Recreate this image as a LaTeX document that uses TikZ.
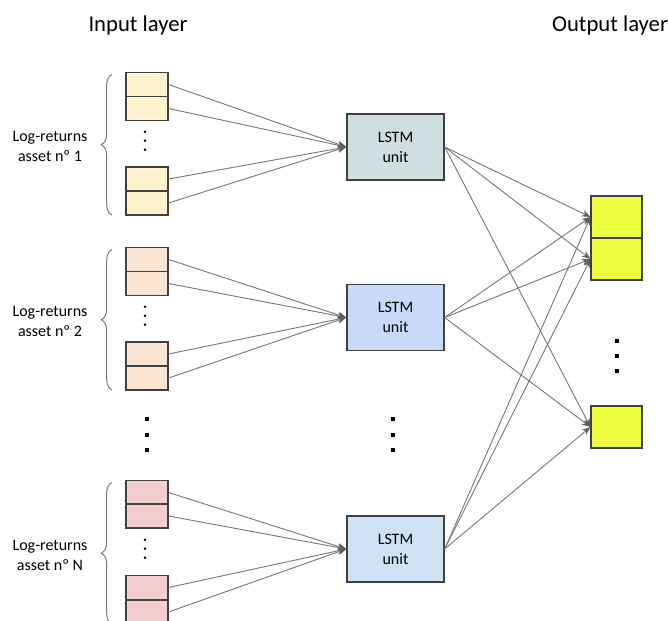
\documentclass[tikz,border=0pt]{standalone}
\usepackage{fontspec}
\setmainfont{Carlito}
\usetikzlibrary{arrows.meta,decorations.pathreplacing}

\definecolor{inA}{HTML}{FFF2CC}
\definecolor{inB}{HTML}{FBE5D2}
\definecolor{inC}{HTML}{F5CFD0}
\definecolor{lstmA}{HTML}{D0DEE1}
\definecolor{lstmB}{HTML}{C9DAF8}
\definecolor{lstmC}{HTML}{CFE2F3}
\definecolor{outY}{HTML}{EDFF3E}
\definecolor{boxline}{HTML}{404040}
\definecolor{linkgray}{HTML}{7A7A7A}
\definecolor{tipgray}{HTML}{5F5F5F}

\tikzset{
    cell/.style={draw=boxline, line width=0.8pt, minimum width=31.5pt, minimum height=18pt, inner sep=0pt},
    unit/.style={draw=boxline, line width=1pt, minimum width=72.75pt, minimum height=49.5pt,
        align=center, font=\fontsize{12}{15}\selectfont},
    outcell/.style={draw=boxline, fill=outY, line width=0.8pt, minimum width=38.25pt, minimum height=31.5pt, inner sep=0pt},
    link/.style={draw=linkgray, line width=0.7pt, -{Stealth[length=6.5pt, width=5pt, color=tipgray]}},
    assetbrace/.style={draw=linkgray, line width=0.75pt, decorate, decoration={brace, amplitude=8pt}},
    assetlabel/.style={align=center, font=\fontsize{12}{15}\selectfont},
    title/.style={font=\fontsize{17}{20}\selectfont}
}

\begin{document}
\begin{tikzpicture}[x=0.75pt, y=-0.75pt]
    \useasboundingbox (0,0) rectangle (668,621);

    % --- TITLES ---
    \node[title] (tin) at (138,25) {Input layer};
    \node[title] (tout) at (610,25) {Output layer};

    % --- OUTPUT LAYER ---
    \node[outcell] (out1) at (616.5,217) {};
    \node[outcell] (out2) at (616.5,259) {};
    \node[outcell] (out3) at (616.5,427) {};
    \foreach \y in {341,356,371}
        \fill (615,\y-2) rectangle (619,\y+2);

    % --- INPUT GROUPS AND LSTM UNITS ---
    \foreach \g/\col/\ucol/\yu/\ya/\yb/\yc/\yd/\lab in {
        1/inA/lstmA/147/84.5/108.5/179/203/1,
        2/inB/lstmB/317.5/259.5/283.5/354/378/2,
        3/inC/lstmC/549/492.5/516/587.5/612/N} {
        \node[cell, fill=\col] (g\g a) at (147,\ya) {};
        \node[cell, fill=\col] (g\g b) at (147,\yb) {};
        \node[cell, fill=\col] (g\g c) at (147,\yc) {};
        \node[cell, fill=\col] (g\g d) at (147,\yd) {};
        \foreach \dy in {-9,0,9}
            \fill (145,{(\yb+\yc)/2-3+\dy}) circle (1.4);

        \draw[assetbrace] (112,{\yd+12}) -- (112,{\ya-10});
        \node[assetlabel] (lab\g) at (50,{(\ya+\yd)/2+3}) {Log-returns\\asset nº \lab};

        \node[unit, fill=\ucol] (lstm\g) at (395.5,\yu) {LSTM\\unit};

        % cells into the unit
        \foreach \c in {a,b,c,d}
            \draw[link] (g\g\c.east) -- (lstm\g.west);
    }

    % --- BIG DOTS ---
    \foreach \y in {419,435,450} {
        \fill (145,\y-2) rectangle (149,\y+2);
        \fill (391,\y-2) rectangle (395,\y+2);
    }

    % units into the output layer
    \foreach \g in {1,2,3}
        \foreach \o in {out1,out2,out3}
            \draw[link] (lstm\g.east) -- (\o.west);
\end{tikzpicture}
\end{document}
